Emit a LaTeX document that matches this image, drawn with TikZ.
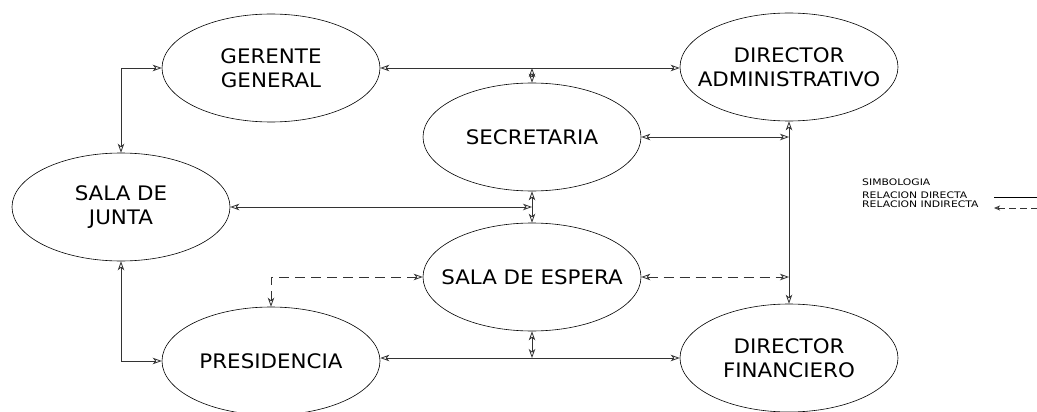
\documentclass[tikz,border=0pt]{standalone}
\usepackage{fontspec}
\setmainfont{DejaVu Sans}[FakeStretch=1.07]
\newfontfamily\legfont{DejaVu Sans}[FakeStretch=1.2]
\usetikzlibrary{shapes.geometric,arrows.meta}
\begin{document}
\begin{tikzpicture}[x=1pt,y=-1pt,
  place/.style={ellipse,draw=black,line width=0.6pt,minimum width=218pt,minimum height=108pt,
    inner xsep=-40pt,inner ysep=0pt,
    align=center,font=\fontsize{20}{24}\selectfont},
  rel/.style={draw=black!80,line width=0.8pt,{Stealth[open,length=9pt,width=6.5pt,inset=2.5pt]}-{Stealth[open,length=9pt,width=6.5pt,inset=2.5pt]}},
  indrel/.style={rel,dash pattern=on 10pt off 6pt},
  leg/.style={anchor=base west,inner sep=0pt,font=\legfont\fontsize{9}{9}\selectfont}]
\useasboundingbox (0,0) rectangle (1037,412);
% places
\node[place] (gg) at (271,68) {GERENTE\\GENERAL};
\node[place] (sj) at (121,207) {SALA DE\\JUNTA};
\node[place] (pr) at (271,361) {PRESIDENCIA};
\node[place] (se) at (532,137) {SECRETARIA};
\node[place] (es) at (532,277) {SALA DE ESPERA};
\node[place] (da) at (789,67) {DIRECTOR\\ADMINISTRATIVO};
\node[place] (df) at (789,358) {DIRECTOR\\FINANCIERO};
% junction points
\coordinate (jtop) at (se.north |- gg.east);
\coordinate (jse) at (da.south |- se.east);
\coordinate (jsj) at (se.south |- sj.east);
\coordinate (jesr) at (da.south |- es.east);
\coordinate (jesb) at (es.south |- df.west);
% direct relations
\draw[rel] (gg.east) -- (gg.east -| da.west);
\draw[rel] (jtop) -- (se.north);
\draw[rel] (se.east) -- (jse);
\draw[rel] (da.south) -- (df.north);
\draw[rel] (sj.east) -- (jsj);
\draw[rel] (se.south) -- (es.north);
\draw[rel] (es.south) -- (jesb);
\draw[rel] (pr.east |- df.west) -- (df.west);
\draw[rel] (sj.north) |- (gg.west);
\draw[rel] (sj.south) |- (pr.west);
% indirect relations
\draw[indrel] (es.west) -| (pr.north);
\draw[indrel] (es.east) -- (jesr);
% legend
\node[leg] (l1) at (862,185) {SIMBOLOGIA};
\node[leg] (l2) at (862,198) {RELACION DIRECTA};
\node[leg] (l3) at (862,207) {RELACION INDIRECTA};
\coordinate (ls1) at (994,197);
\coordinate (ls2) at (1037,197);
\coordinate (ld1) at (994,208);
\coordinate (ld2) at (1037,208);
\draw[draw=black,line width=0.8pt] (ls1) -- (ls2);
\draw[draw=black!80,line width=0.8pt,dash pattern=on 7pt off 4pt,{Stealth[open,length=6pt,width=5pt,inset=1.5pt]}-] (ld1) -- (ld2);
\end{tikzpicture}
\end{document}
